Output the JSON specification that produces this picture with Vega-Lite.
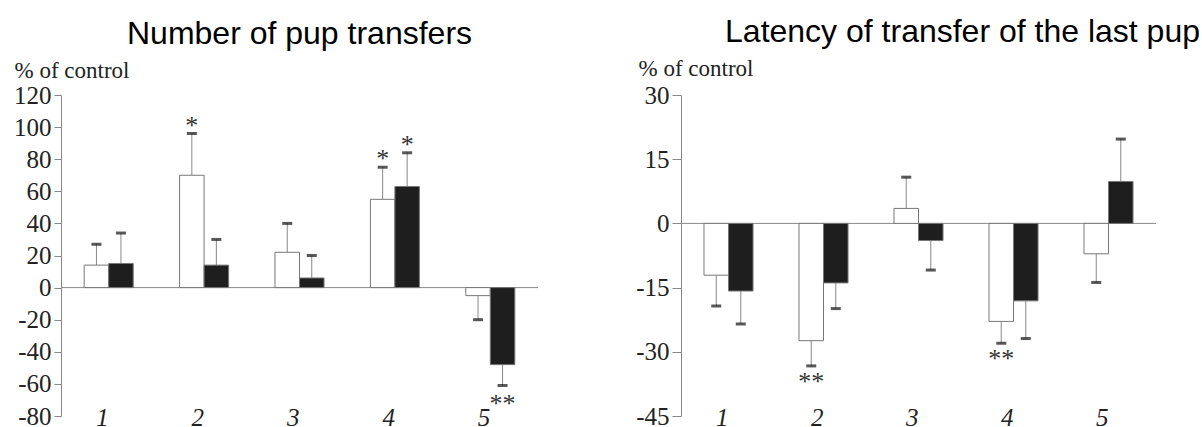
{
  "$schema": "https://vega.github.io/schema/vega-lite/v6.json",
  "autosize": {"type": "pad"},
  "padding": {"left": 13, "top": 16, "right": 2, "bottom": 0},
  "background": "white",
  "spacing": 143,
  "bounds": "flush",
  "config": {
    "view": {"stroke": null},
    "title": {"font": "Liberation Sans", "fontSize": 32, "fontWeight": "normal", "color": "#000"},
    "axis": {"labelFont": "Liberation Serif", "labelFontSize": 25, "labelColor": "#222", "labelOverlap": false, "titleFont": "Liberation Serif", "titleFontSize": 23, "titleFontWeight": "normal", "titleColor": "#222", "grid": false, "domainColor": "#888", "tickColor": "#888"}
  },
  "datasets": {
    "pups": [
      {"group": "1", "cond": "white", "value": 14, "cap": 27, "sig": ""},
      {"group": "1", "cond": "black", "value": 15, "cap": 34, "sig": ""},
      {"group": "2", "cond": "white", "value": 70, "cap": 96, "sig": "*"},
      {"group": "2", "cond": "black", "value": 14, "cap": 30, "sig": ""},
      {"group": "3", "cond": "white", "value": 22, "cap": 40, "sig": ""},
      {"group": "3", "cond": "black", "value": 6, "cap": 20, "sig": ""},
      {"group": "4", "cond": "white", "value": 55, "cap": 75, "sig": "*"},
      {"group": "4", "cond": "black", "value": 63, "cap": 84, "sig": "*"},
      {"group": "5", "cond": "white", "value": -5, "cap": -20, "sig": ""},
      {"group": "5", "cond": "black", "value": -48, "cap": -61, "sig": "**"}
    ],
    "latency": [
      {"group": "1", "cond": "white", "value": -12.1, "cap": -19.3, "sig": ""},
      {"group": "1", "cond": "black", "value": -15.8, "cap": -23.5, "sig": ""},
      {"group": "2", "cond": "white", "value": -27.4, "cap": -33.3, "sig": "**"},
      {"group": "2", "cond": "black", "value": -13.9, "cap": -19.9, "sig": ""},
      {"group": "3", "cond": "white", "value": 3.5, "cap": 10.8, "sig": ""},
      {"group": "3", "cond": "black", "value": -4.0, "cap": -10.9, "sig": ""},
      {"group": "4", "cond": "white", "value": -22.9, "cap": -28.0, "sig": "**"},
      {"group": "4", "cond": "black", "value": -18.1, "cap": -26.9, "sig": ""},
      {"group": "5", "cond": "white", "value": -7.1, "cap": -13.8, "sig": ""},
      {"group": "5", "cond": "black", "value": 9.8, "cap": 19.7, "sig": ""}
    ]
  },
  "hconcat": [
    {
      "title": {"text": "Number of pup transfers", "offset": 8},
      "width": 477,
      "height": 321,
      "data": {"name": "pups"},
      "layer": [
        {
          "data": {"values": [{}]},
          "mark": {"type": "rule", "color": "#888", "strokeWidth": 1},
          "encoding": {"y": {"datum": 0, "type": "quantitative", "scale": {"domain": [-80, 120], "nice": false, "zero": false}, "axis": {"title": "% of control", "titleFont": "Liberation Serif", "titleFontSize": 23, "titleAngle": 0, "titleAlign": "left", "titleBaseline": "alphabetic", "titleX": -47, "titleY": -18, "values": [-80, -60, -40, -20, 0, 20, 40, 60, 80, 100, 120], "tickCount": 11, "labelExpr": "'' + datum.value", "labelOverlap": false, "tickSize": 7, "labelPadding": 3}}}
        },
        {
          "mark": {"type": "rule", "color": "#888", "strokeWidth": 1},
          "encoding": {
            "x": {"field": "group", "type": "nominal"},
            "xOffset": {"field": "cond", "type": "nominal"},
            "y": {"field": "value", "type": "quantitative"},
            "y2": {"field": "cap"}
          }
        },
        {
          "mark": {"type": "bar", "stroke": "#777", "strokeWidth": 1},
          "encoding": {
            "x": {"field": "group", "type": "nominal", "scale": {"paddingInner": 0.486, "paddingOuter": 0.243}, "axis": {"title": null, "domain": false, "ticks": false, "labelAngle": 0, "labelFontStyle": "italic", "labelPadding": 1, "labelBaseline": "middle"}},
            "xOffset": {"field": "cond", "type": "nominal", "scale": {"domain": ["white", "black"], "paddingInner": 0, "paddingOuter": 0}},
            "y": {"field": "value", "type": "quantitative"},
            "color": {"field": "cond", "type": "nominal", "scale": {"domain": ["white", "black"], "range": ["#ffffff", "#1e1e1e"]}, "legend": null}
          }
        },
        {
          "mark": {"type": "tick", "size": 10, "thickness": 3, "color": "#111"},
          "encoding": {
            "x": {"field": "group", "type": "nominal"},
            "xOffset": {"field": "cond", "type": "nominal"},
            "y": {"field": "cap", "type": "quantitative"}
          }
        },
        {
          "transform": [{"filter": "datum.sig != '' && datum.cap > 0"}],
          "mark": {"type": "text", "font": "Liberation Serif", "fontSize": 26, "color": "#333", "baseline": "alphabetic", "dy": 0},
          "encoding": {
            "x": {"field": "group", "type": "nominal"},
            "xOffset": {"field": "cond", "type": "nominal"},
            "y": {"field": "cap", "type": "quantitative"},
            "text": {"field": "sig"}
          }
        },
        {
          "transform": [{"filter": "datum.sig != '' && datum.cap < 0"}],
          "mark": {"type": "text", "font": "Liberation Serif", "fontSize": 26, "color": "#333", "baseline": "alphabetic", "dy": 26},
          "encoding": {
            "x": {"field": "group", "type": "nominal"},
            "xOffset": {"field": "cond", "type": "nominal"},
            "y": {"field": "cap", "type": "quantitative"},
            "text": {"field": "sig"}
          }
        }
      ]
    },
    {
      "title": {"text": "Latency of transfer of the last pup", "offset": 8, "dx": 44},
      "width": 475,
      "height": 321,
      "data": {"name": "latency"},
      "layer": [
        {
          "data": {"values": [{}]},
          "mark": {"type": "rule", "color": "#888", "strokeWidth": 1},
          "encoding": {"y": {"datum": 0, "type": "quantitative", "scale": {"domain": [-45, 30], "nice": false, "zero": false}, "axis": {"title": "% of control", "titleFont": "Liberation Serif", "titleFontSize": 23, "titleAngle": 0, "titleAlign": "left", "titleBaseline": "alphabetic", "titleX": -43, "titleY": -20, "values": [-45, -30, -15, 0, 15, 30], "tickCount": 6, "labelExpr": "'' + datum.value", "labelOverlap": false, "tickSize": 9, "labelPadding": 3}}}
        },
        {
          "mark": {"type": "rule", "color": "#888", "strokeWidth": 1},
          "encoding": {
            "x": {"field": "group", "type": "nominal"},
            "xOffset": {"field": "cond", "type": "nominal"},
            "y": {"field": "value", "type": "quantitative"},
            "y2": {"field": "cap"}
          }
        },
        {
          "mark": {"type": "bar", "stroke": "#777", "strokeWidth": 1},
          "encoding": {
            "x": {"field": "group", "type": "nominal", "scale": {"paddingInner": 0.484, "paddingOuter": 0.242}, "axis": {"title": null, "domain": false, "ticks": false, "labelAngle": 0, "labelFontStyle": "italic", "labelPadding": 1, "labelBaseline": "middle"}},
            "xOffset": {"field": "cond", "type": "nominal", "scale": {"domain": ["white", "black"], "paddingInner": 0, "paddingOuter": 0}},
            "y": {"field": "value", "type": "quantitative"},
            "color": {"field": "cond", "type": "nominal", "scale": {"domain": ["white", "black"], "range": ["#ffffff", "#1e1e1e"]}, "legend": null}
          }
        },
        {
          "mark": {"type": "tick", "size": 10, "thickness": 3, "color": "#111"},
          "encoding": {
            "x": {"field": "group", "type": "nominal"},
            "xOffset": {"field": "cond", "type": "nominal"},
            "y": {"field": "cap", "type": "quantitative"}
          }
        },
        {
          "transform": [{"filter": "datum.sig != '' && datum.cap < 0"}],
          "mark": {"type": "text", "font": "Liberation Serif", "fontSize": 26, "color": "#333", "baseline": "alphabetic", "dy": 24},
          "encoding": {
            "x": {"field": "group", "type": "nominal"},
            "xOffset": {"field": "cond", "type": "nominal"},
            "y": {"field": "cap", "type": "quantitative"},
            "text": {"field": "sig"}
          }
        }
      ]
    }
  ]
}
